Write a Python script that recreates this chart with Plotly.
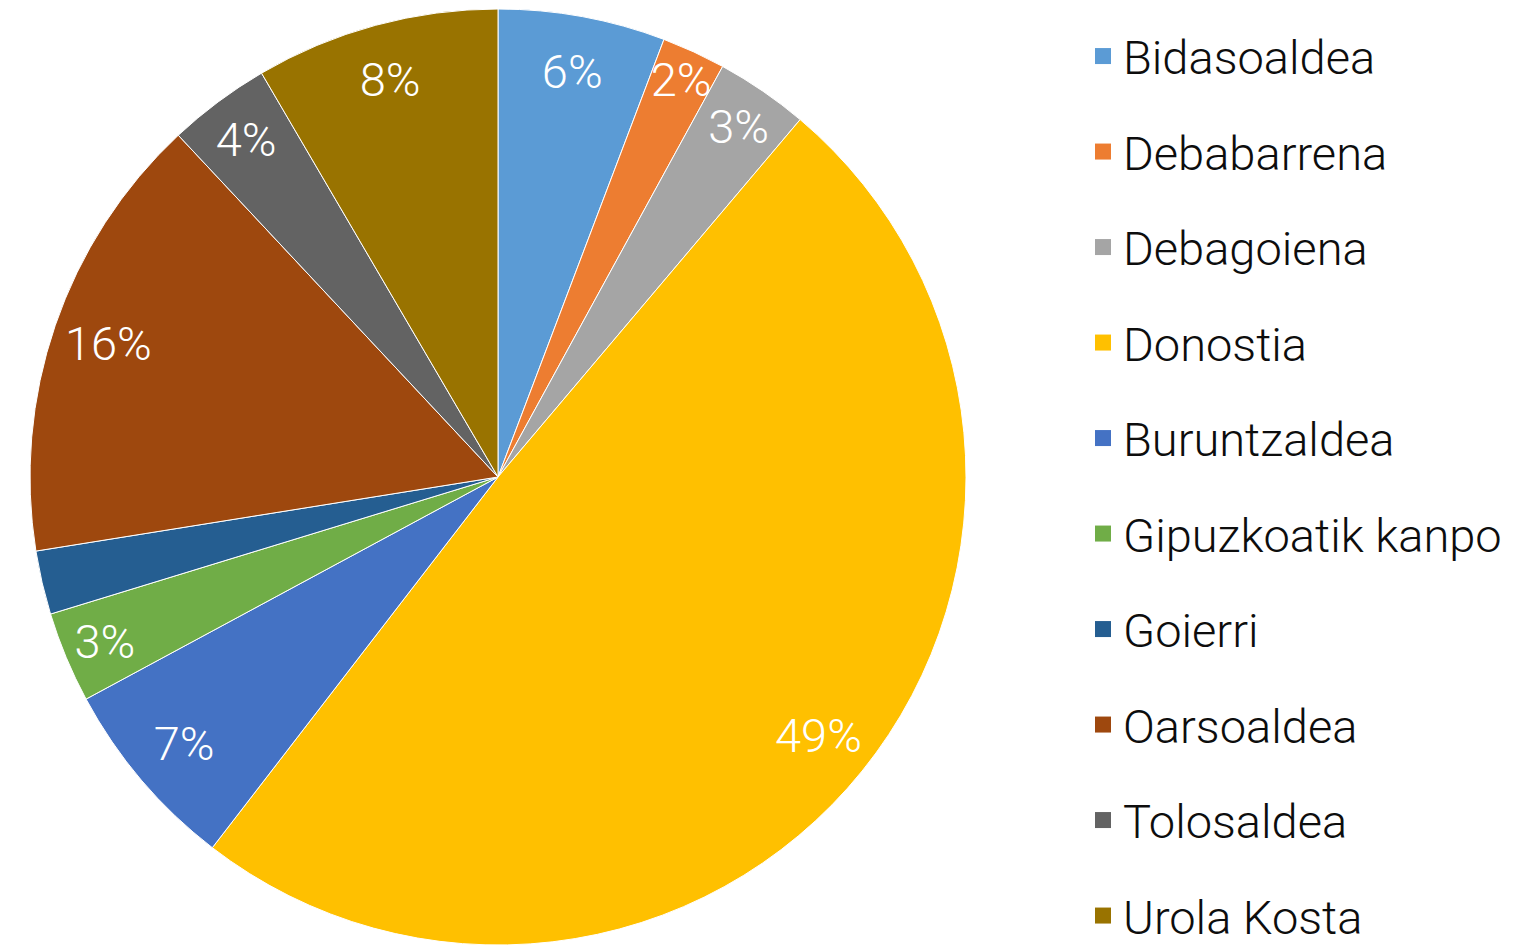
import plotly.graph_objects as go

categories = ["Bidasoaldea", "Debabarrena", "Debagoiena", "Donostia", "Buruntzaldea",
              "Gipuzkoatik kanpo", "Goierri", "Oarsoaldea", "Tolosaldea", "Urola Kosta"]
values = [5.77, 2.2, 3.2, 49.28, 6.68, 3.14, 2.2, 15.56, 3.54, 8.43]
colors = ["#5B9BD5", "#ED7D31", "#A5A5A5", "#FFC000", "#4472C4",
          "#70AD47", "#255E91", "#9E480E", "#636363", "#997300"]
show_label = [True, True, True, True, True, True, False, True, True, True]

FONT = "Roboto"
W, H = 1522, 945
OFF = 8  # page body margin
dom = dict(x=[(30 - OFF) / W, (966 - OFF) / W], y=[OFF / H, 1 - (9 - OFF) / H])

fig = go.Figure()
# coloured slices
fig.add_trace(go.Pie(
    labels=categories, values=values, sort=False, direction="clockwise", rotation=0,
    marker=dict(colors=colors, line=dict(color="white", width=1)),
    textinfo="none", showlegend=False, hoverinfo="label+percent",
    domain=dom,
))
# transparent ring carrying the percentage labels near the rim
fig.add_trace(go.Pie(
    labels=categories, values=values, sort=False, direction="clockwise", rotation=0,
    hole=0.76,
    marker=dict(colors=["rgba(0,0,0,0)"] * len(values), line=dict(width=0)),
    texttemplate=["%{percent:.0%}" if s else "" for s in show_label],
    textposition="inside", insidetextorientation="horizontal",
    textfont=dict(family=FONT, size=47, color="white", weight=300),
    showlegend=False, hoverinfo="skip",
    domain=dom,
))

# legend entries
for c, col in zip(categories, colors):
    fig.add_trace(go.Scatter(
        x=[None], y=[None], mode="markers", name=c, legendgroup=c,
        marker=dict(symbol="square", size=16, color=col),
    ))

fig.update_layout(
    width=W, height=H,
    margin=dict(l=0, r=0, t=0, b=0),
    paper_bgcolor="white", plot_bgcolor="white",
    xaxis=dict(visible=False), yaxis=dict(visible=False),
    uniformtext=dict(mode="show", minsize=47),
    legend=dict(x=0.7063, y=0.979, xanchor="left", yanchor="top",
                font=dict(family=FONT, size=47, color="#0d0d0d", weight=300),
                tracegroupgap=31.4, itemwidth=30, bgcolor="rgba(0,0,0,0)"),
)

fig.write_html("out.html")
